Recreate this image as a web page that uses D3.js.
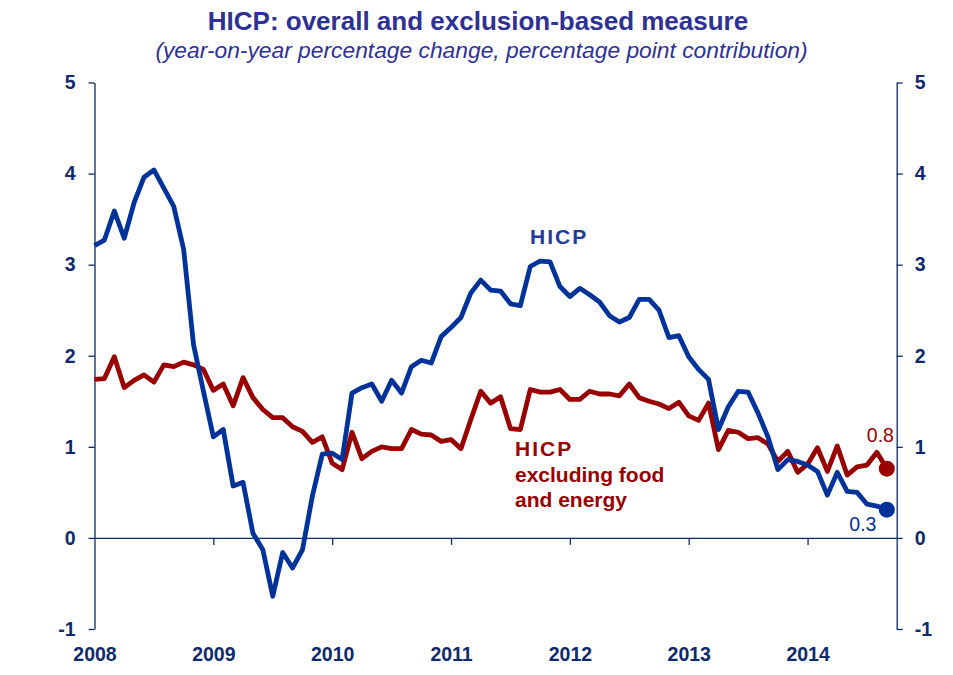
<!DOCTYPE html>
<html>
<head>
<meta charset="utf-8">
<script src="https://cdn.jsdelivr.net/npm/d3@7"></script>
<style>
  html, body { margin: 0; padding: 0; background: #ffffff; }
  svg { display: block; font-family: "Liberation Sans", Arial, sans-serif; }
</style>
</head>
<body>
<svg id="chart" width="953" height="675"></svg>
<script>
// ---- data (monthly, Jan 2008 - Sep 2014) ----
const years = ["2008", "2009", "2010", "2011", "2012", "2013", "2014"];
const yTicks = [-1, 0, 1, 2, 3, 4, 5];

const hicp = [
  3.21, 3.27, 3.59, 3.29, 3.68, 3.96, 4.04, 3.84, 3.64, 3.17, 2.12, 1.61,
  1.11, 1.19, 0.57, 0.61, 0.05, -0.13, -0.64, -0.16, -0.33, -0.13, 0.46, 0.92,
  0.93, 0.86, 1.59, 1.65, 1.69, 1.50, 1.73, 1.59, 1.88, 1.95, 1.92, 2.21,
  2.31, 2.42, 2.69, 2.83, 2.72, 2.71, 2.57, 2.55, 2.98, 3.04, 3.03, 2.76,
  2.65, 2.74, 2.67, 2.59, 2.44, 2.37, 2.42, 2.62, 2.62, 2.50, 2.20, 2.22,
  1.99, 1.85, 1.74, 1.19, 1.44, 1.61, 1.60, 1.37, 1.11, 0.75, 0.86, 0.84,
  0.80, 0.73, 0.47, 0.72, 0.51, 0.50, 0.37, 0.35, 0.31
];

const hicpExFoodEnergy = [
  1.74, 1.75, 1.99, 1.65, 1.73, 1.79, 1.71, 1.90, 1.88, 1.93, 1.90, 1.85,
  1.62, 1.69, 1.45, 1.76, 1.54, 1.41, 1.32, 1.32, 1.22, 1.17, 1.05, 1.11,
  0.82, 0.75, 1.16, 0.87, 0.95, 1.00, 0.98, 0.98, 1.19, 1.14, 1.13, 1.06,
  1.08, 0.98, 1.30, 1.61, 1.48, 1.55, 1.20, 1.19, 1.63, 1.60, 1.60, 1.63,
  1.52, 1.52, 1.61, 1.58, 1.58, 1.56, 1.69, 1.54, 1.50, 1.47, 1.42, 1.49,
  1.34, 1.29, 1.48, 0.97, 1.18, 1.16, 1.09, 1.10, 1.03, 0.84, 0.95, 0.72,
  0.81, 0.99, 0.73, 1.01, 0.69, 0.78, 0.80, 0.94, 0.76
];

const lastLabels = { hicp: "0.3", core: "0.8" };

// ---- layout ----
const svg = d3.select("#chart");
const axisColor = "#0F2A6B";
const blue = "#003399";
const red = "#990000";
const titleColor = "#2E3192";

const x = d3.scaleLinear().domain([0, 81]).range([94.5, 896.7]);
const y = d3.scaleLinear().domain([-1, 5]).range([629, 82.5]);

svg.append("rect").attr("width", 953).attr("height", 675).attr("fill", "#fff");

// title
svg.append("text").attr("x", 478).attr("y", 30)
  .attr("text-anchor", "middle").attr("font-size", 26).attr("font-weight", "bold")
  .attr("fill", titleColor).text("HICP: overall and exclusion-based measure");
svg.append("text").attr("x", 481.5).attr("y", 58)
  .attr("text-anchor", "middle").attr("font-size", 22.8).attr("font-style", "italic")
  .attr("fill", titleColor).text("(year-on-year percentage change, percentage point contribution)");

function styleAxis(g) {
  g.selectAll("path.domain").attr("stroke", axisColor).attr("stroke-width", 1.3);
  g.selectAll(".tick line").attr("stroke", axisColor).attr("stroke-width", 1.3);
  g.selectAll(".tick text").attr("fill", axisColor).attr("font-size", 19.5)
    .attr("font-weight", "bold").attr("font-family", "'Liberation Sans', Arial, sans-serif");
}

const fmt = d => String(d);

// left axis
svg.append("g").attr("transform", `translate(${x(0)},0)`)
  .call(d3.axisLeft(y).tickValues(yTicks).tickFormat(fmt)
    .tickSize(6).tickSizeOuter(0).tickPadding(13))
  .call(styleAxis);

// right axis
svg.append("g").attr("transform", `translate(${x(81)},0)`)
  .call(d3.axisRight(y).tickValues(yTicks).tickFormat(fmt)
    .tickSize(6).tickSizeOuter(0).tickPadding(12))
  .call(styleAxis);

// zero line with year ticks
svg.append("g").attr("transform", `translate(0,${y(0)})`)
  .call(d3.axisBottom(x).tickValues(d3.range(12, 81, 12)).tickFormat("")
    .tickSize(7).tickSizeOuter(0))
  .call(styleAxis);

// year labels
svg.append("g").attr("transform", `translate(0,${y(-1)})`)
  .call(d3.axisBottom(x).tickValues(years.map((d, i) => i * 12))
    .tickFormat((d, i) => years[i]).tickSize(0).tickPadding(18))
  .call(g => g.select(".domain").remove())
  .call(styleAxis);

// lines
const line = d3.line().x((d, i) => x(i)).y(d => y(d));
svg.append("path").datum(hicpExFoodEnergy).attr("d", line)
  .attr("fill", "none").attr("stroke", red).attr("stroke-width", 4.8)
  .attr("stroke-linejoin", "round");
svg.append("path").datum(hicp).attr("d", line)
  .attr("fill", "none").attr("stroke", blue).attr("stroke-width", 4.8)
  .attr("stroke-linejoin", "round");

// end dots
const li = hicp.length - 1;
svg.append("circle").attr("cx", x(li)).attr("cy", y(hicpExFoodEnergy[li])).attr("r", 8).attr("fill", red);
svg.append("circle").attr("cx", x(li)).attr("cy", y(hicp[li])).attr("r", 8).attr("fill", blue);

svg.append("text").attr("x", x(li) - 20).attr("y", y(hicpExFoodEnergy[li]) - 26.5)
  .attr("font-size", 19.5).attr("fill", red).text(lastLabels.core);
svg.append("text").attr("x", x(li) - 37.5).attr("y", y(hicp[li]) + 21)
  .attr("font-size", 19.5).attr("fill", blue).text(lastLabels.hicp);

// series labels
svg.append("text").attr("x", 530).attr("y", 244.3)
  .attr("font-size", 21).attr("font-weight", "bold").attr("letter-spacing", 2)
  .attr("fill", "#233C9B").text("HICP");
const core = svg.append("text").attr("font-size", 21).attr("font-weight", "bold").attr("fill", red);
core.append("tspan").attr("x", 515).attr("y", 455.7).attr("letter-spacing", 2).text("HICP");
core.append("tspan").attr("x", 515).attr("y", 481.5).text("excluding food");
core.append("tspan").attr("x", 515).attr("y", 506.7).text("and energy");
</script>
</body>
</html>
